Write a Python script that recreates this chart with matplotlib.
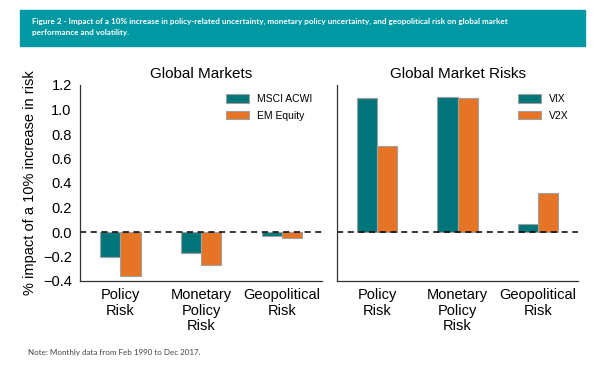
import numpy as np
import matplotlib
matplotlib.use("Agg")
import matplotlib.pyplot as plt
from matplotlib.patches import Rectangle

# data
categories = ["Policy\nRisk", "Monetary\nPolicy\nRisk", "Geopolitical\nRisk"]
msci_acwi = [-0.20, -0.17, -0.03]
em_equity = [-0.36, -0.27, -0.05]
vix = [1.09, 1.10, 0.065]
v2x = [0.70, 1.09, 0.32]

yticks = [-0.4, -0.2, 0.0, 0.2, 0.4, 0.6, 0.8, 1.0, 1.2]

TEAL = "#00767A"
ORANGE = "#E57425"
BANNER = "#0098A2"

plt.rcParams['font.family'] = ['Liberation Sans', 'DejaVu Sans']


def draw_panel(ax, s1, s2, labels, title, show_y):
    x = np.arange(len(categories))
    w = 0.25
    ax.bar(x - w / 2, s1, w, color=TEAL, edgecolor="#a0a0a0", linewidth=0.8, label=labels[0])
    ax.bar(x + w / 2, s2, w, color=ORANGE, edgecolor="#a0a0a0", linewidth=0.8, label=labels[1])
    ax.axhline(0, color="black", linestyle="--", linewidth=1.1, dashes=(4, 3))
    ax.set_xlim(-0.5, 2.5)
    ax.set_ylim(-0.4, 1.2)
    ax.set_xticks(x)
    ax.set_xticklabels(categories, fontsize=10.5, linespacing=1.15)
    ax.set_yticks(yticks)
    if show_y:
        ax.set_yticklabels([f"{v:.1f}".replace("-", "\u2212") for v in yticks], fontsize=10.5)
        ax.set_ylabel("% impact of a 10% increase in risk", fontsize=10.5, labelpad=4)
    else:
        ax.set_yticklabels([])
    ax.tick_params(length=0, pad=6)
    ax.tick_params(axis="x", pad=5)
    for side in ["top", "right"]:
        ax.spines[side].set_visible(False)
    for side in ["left", "bottom"]:
        ax.spines[side].set_color("#333333")
        ax.spines[side].set_linewidth(0.9)
    ax.set_title(title, fontsize=11, pad=5)
    ax.legend(loc="upper right", frameon=False, fontsize=7.5, handlelength=2.2,
              handleheight=0.9, labelspacing=0.6, bbox_to_anchor=(1.0, 1.0))


fig = plt.figure(figsize=(6.0, 3.73), dpi=100)

ax1 = fig.add_axes([80 / 600, 1 - 281 / 373, 242 / 600, 196 / 373])
ax2 = fig.add_axes([337 / 600, 1 - 281 / 373, 241 / 600, 196 / 373])

draw_panel(ax1, msci_acwi, em_equity, ["MSCI ACWI", "EM Equity"], "Global Markets", True)
draw_panel(ax2, vix, v2x, ["VIX", "V2X"], "Global Market Risks", False)

# header banner
fig.patches.append(Rectangle((20 / 600, 1 - 46 / 373), 565 / 600, 36 / 373,
                             transform=fig.transFigure, color=BANNER, zorder=0))
fig.text(32 / 600, 1 - 21 / 373,
         "Figure 2 - Impact of a 10% increase in policy-related uncertainty, monetary policy uncertainty, and geopolitical risk on global market",
         color="white", fontsize=5.85, fontweight="bold", family=["Lato", "DejaVu Sans"], va="center")
fig.text(32 / 600, 1 - 33 / 373, "performance and volatility.",
         color="white", fontsize=5.85, fontweight="bold", family=["Lato", "DejaVu Sans"], va="center")

fig.text(28 / 600, 1 - 353 / 373, "Note: Monthly data from Feb 1990 to Dec 2017.",
         color="#444444", fontsize=5.8, family=["Lato", "DejaVu Sans"], va="center")

fig.savefig("out.png", dpi=100)
